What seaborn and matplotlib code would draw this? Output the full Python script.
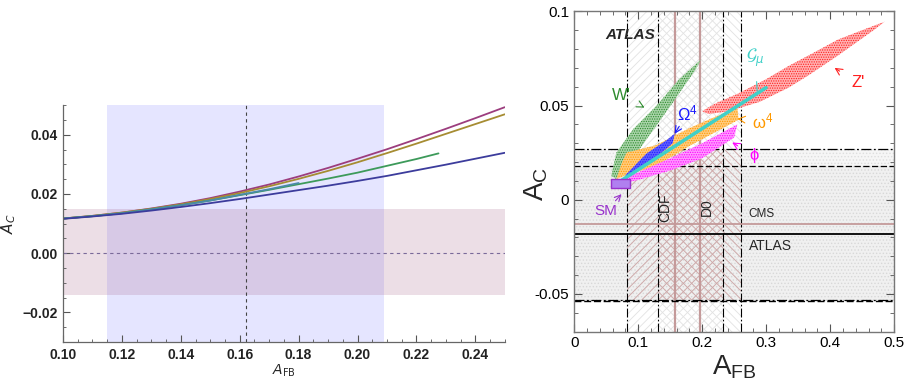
import numpy as np
import pandas as pd
import seaborn as sns
import matplotlib
matplotlib.use('Agg')
import matplotlib.pyplot as plt
from matplotlib.ticker import MultipleLocator, FuncFormatter

# ---- left panel data ----
afb_grid = [0.10, 0.11, 0.12, 0.13, 0.14, 0.15, 0.16, 0.17, 0.18, 0.19, 0.20, 0.21, 0.22, 0.23, 0.24, 0.25]
ac_purple = [0.0117, 0.0126, 0.0137, 0.0151, 0.0167, 0.0186, 0.0208, 0.0232, 0.0259, 0.0288, 0.0319, 0.0351, 0.0385, 0.0420, 0.0456, 0.0493]
ac_gold = [0.0117, 0.0126, 0.0137, 0.0150, 0.0165, 0.0183, 0.0203, 0.0226, 0.0251, 0.0278, 0.0307, 0.0338, 0.0370, 0.0403, 0.0436, 0.0469]
ac_blue = [0.0116, 0.0124, 0.0133, 0.0144, 0.0156, 0.0169, 0.0183, 0.0198, 0.0213, 0.0228, 0.0244, 0.0261, 0.0280, 0.0299, 0.0319, 0.0339]
afb_green = [0.10, 0.11, 0.12, 0.13, 0.14, 0.15, 0.16, 0.17, 0.18, 0.19, 0.20, 0.21, 0.22, 0.2275]
ac_green = [0.0117, 0.0125, 0.0135, 0.0148, 0.0162, 0.0178, 0.0196, 0.0214, 0.0233, 0.0252, 0.0272, 0.0295, 0.0318, 0.0337]
afb_teal = [0.10, 0.11, 0.12, 0.13, 0.14, 0.15, 0.16, 0.17, 0.18]
ac_teal = [0.0117, 0.0125, 0.0135, 0.0148, 0.0162, 0.0178, 0.0197, 0.0216, 0.0237]

afb_band = [0.115, 0.209]
afb_center = 0.162
ac_band = [-0.014, 0.015]

# ---- right panel data ----
cdf_band = [0.083, 0.233]
cdf_center = 0.158
d0_band = [0.131, 0.261]
d0_center = 0.196
atlas_center, atlas_err = -0.018, 0.036
cms_center, cms_err = -0.013, 0.040

w_x = [0.058, 0.066, 0.092, 0.128, 0.164, 0.198, 0.190, 0.154, 0.102, 0.0765, 0.066]
w_y = [0.0127, 0.025, 0.0374, 0.0497, 0.0639, 0.0744, 0.0692, 0.0515, 0.0268, 0.0162, 0.011]
zp_x = [0.20, 0.22, 0.257, 0.30, 0.335, 0.374, 0.412, 0.45, 0.485, 0.47, 0.412, 0.366, 0.335, 0.29, 0.242, 0.21]
zp_y = [0.047, 0.051, 0.0565, 0.064, 0.071, 0.078, 0.085, 0.090, 0.0945, 0.0905, 0.0765, 0.066, 0.0595, 0.052, 0.047, 0.0455]
om_x = [0.066, 0.075, 0.082, 0.128, 0.18, 0.21, 0.255, 0.257, 0.18, 0.128, 0.077]
om_y = [0.011, 0.020, 0.025, 0.029, 0.038, 0.0425, 0.049, 0.0425, 0.0285, 0.018, 0.0125]
phi_x = [0.058, 0.10, 0.15, 0.20, 0.255, 0.25, 0.20, 0.15, 0.10, 0.06]
phi_y = [0.009, 0.0145, 0.022, 0.030, 0.040, 0.033, 0.022, 0.0155, 0.0105, 0.0075]
bigom_x = [0.080, 0.113, 0.144, 0.157, 0.154, 0.118, 0.082]
bigom_y = [0.013, 0.0245, 0.0315, 0.035, 0.030, 0.0195, 0.0122]
gmu_x = [0.075, 0.18, 0.30]
gmu_y = [0.0105, 0.0334, 0.0595]
sm_x = [0.057, 0.087]
sm_y = [0.006, 0.011]

sns.set_theme(style='ticks')
plt.rcParams['font.family'] = ['Liberation Sans', 'DejaVu Sans']
plt.rcParams['hatch.linewidth'] = 0.6

fig = plt.figure(figsize=(9.07, 3.79), dpi=100)
ax1 = fig.add_axes([0.0695, 0.0976, 0.487, 0.625])
ax2 = fig.add_axes([0.633, 0.125, 0.3528, 0.845])

# ================= left panel =================
ax1.axvspan(afb_band[0], afb_band[1], color='#8080ff', alpha=0.2, lw=0, zorder=0)
ax1.axhspan(ac_band[0], ac_band[1], color='#a05a82', alpha=0.2, lw=0, zorder=0)
ax1.axvline(afb_center, color='#444444', lw=0.8, ls=(0, (3, 3)), zorder=1)
ax1.axhline(0.0, color='#7a6a9a', lw=0.8, ls=(0, (3, 3)), zorder=1)

curves = pd.concat([
    pd.DataFrame({'afb': afb_grid, 'ac': ac_purple, 'model': 'purple'}),
    pd.DataFrame({'afb': afb_grid, 'ac': ac_gold, 'model': 'gold'}),
    pd.DataFrame({'afb': afb_green, 'ac': ac_green, 'model': 'green'}),
    pd.DataFrame({'afb': afb_teal, 'ac': ac_teal, 'model': 'teal'}),
    pd.DataFrame({'afb': afb_grid, 'ac': ac_blue, 'model': 'blue'}),
])
pal = {'purple': '#9c3d7e', 'gold': '#a68c32', 'green': '#3d9a5a',
       'teal': '#4a8aa8', 'blue': '#3c3c9c'}
sns.lineplot(data=curves, x='afb', y='ac', hue='model', palette=pal,
             linewidth=1.3, legend=False, ax=ax1, zorder=2)

ax1.set_xlim(0.10, 0.25)
ax1.set_ylim(-0.03, 0.05)
ax1.xaxis.set_major_locator(MultipleLocator(0.02))
ax1.xaxis.set_minor_locator(MultipleLocator(0.005))
ax1.yaxis.set_major_locator(MultipleLocator(0.02))
ax1.yaxis.set_minor_locator(MultipleLocator(0.005))
ax1.xaxis.set_major_formatter(FuncFormatter(lambda v, p: f'{v:.2f}'))
ax1.yaxis.set_major_formatter(FuncFormatter(lambda v, p: f'{v:.2f}'.replace('-', '\u2212')))
ax1.tick_params(which='both', direction='in', colors='#555555', labelcolor='#222222',
                labelsize=10, pad=4)
ax1.tick_params(which='major', length=5, width=0.8)
ax1.tick_params(which='minor', length=2.5, width=0.6)
for lab in ax1.get_xticklabels() + ax1.get_yticklabels():
    lab.set_fontweight('bold')
for s in ['top', 'right']:
    ax1.spines[s].set_visible(False)
for s in ['left', 'bottom']:
    ax1.spines[s].set_color('#666666')
    ax1.spines[s].set_linewidth(0.9)
ax1.set_xlabel(r'$A_{\mathrm{FB}}$', fontsize=10, labelpad=1)
ax1.set_ylabel(r'$A_C$', fontsize=11, labelpad=3)

# ================= right panel =================
atlas_lo, atlas_hi = atlas_center - atlas_err, atlas_center + atlas_err
cms_lo, cms_hi = cms_center - cms_err, cms_center + cms_err

# stippled horizontal bands
ax2.axhspan(cms_lo, cms_hi, facecolor='#f6f6f6', edgecolor='#dedede', hatch='.....', lw=0, zorder=0.2)
ax2.axhspan(atlas_lo, atlas_hi, facecolor='#f0f0f0', edgecolor='#d8d8d8', hatch='.....', lw=0, zorder=0.3)

# hatched vertical bands (grey outside, brownish inside horizontal band)
ax2.axvspan(cdf_band[0], cdf_band[1], facecolor='none', edgecolor='#e2e2e2', hatch='////', lw=0, zorder=0.4)
ax2.axvspan(d0_band[0], d0_band[1], facecolor='none', edgecolor='#e2e2e2', hatch='\\\\\\\\', lw=0, zorder=0.4)
ax2.fill_between(cdf_band, cms_lo, cms_hi, facecolor='none', edgecolor='#cfa6a6', hatch='////', lw=0, zorder=0.5)
ax2.fill_between(d0_band, cms_lo, cms_hi, facecolor='none', edgecolor='#cfa6a6', hatch='\\\\\\\\', lw=0, zorder=0.5)

# measurement lines
dashdot = (0, (8, 2, 1.5, 2))
for v in cdf_band + d0_band:
    ax2.axvline(v, color='black', lw=0.8, ls=dashdot, zorder=1)
for v in [cdf_center, d0_center]:
    ax2.axvline(v, color='#c49a9a', lw=1.6, zorder=1)
ax2.axhline(cms_hi, color='black', lw=0.9, ls=dashdot, zorder=1)
ax2.axhline(atlas_hi, color='black', lw=0.9, ls=(0, (5, 2)), zorder=1)
ax2.axhline(cms_lo, color='black', lw=0.9, ls=dashdot, zorder=1)
ax2.axhline(atlas_lo, color='black', lw=1.0, ls=(0, (5, 2)), zorder=1)
ax2.axhline(cms_center, color='#c49a9a', lw=1.3, zorder=1)
ax2.axhline(atlas_center, color='black', lw=1.3, zorder=1)

# model regions drawn as stippled areas
def cloud(xs, ys, col, face):
    ax2.fill(xs, ys, facecolor=face, edgecolor=col, hatch='.......', lw=0, zorder=3)

cloud(w_x, w_y, '#2e8b2e', '#a9d4a9')
cloud(om_x, om_y, '#ff9900', '#ffcc80')
cloud(zp_x, zp_y, '#ff2020', '#ffb3b3')
cloud(phi_x, phi_y, '#ff00ff', '#ff99ff')
cloud(bigom_x, bigom_y, '#1a1aff', '#6060ff')
sns.lineplot(x=gmu_x, y=gmu_y, color='#40d0c8', linewidth=2.5, ax=ax2, zorder=4)
ax2.fill_between(sm_x, sm_y[0], sm_y[1], facecolor='#b080f0', edgecolor='#9933cc', lw=1, zorder=4)

# labels
ax2.text(0.048, 0.0877, 'ATLAS', fontsize=11, fontweight='bold', fontstyle='italic', va='center', ha='left', zorder=5)
ax2.text(0.143, -0.004, 'CDF', rotation=90, fontsize=10, ha='center', va='center', zorder=5)
ax2.text(0.208, -0.004, 'D0', rotation=90, fontsize=10, ha='center', va='center', zorder=5)
ax2.text(0.273, -0.0076, 'CMS', fontsize=8.5, ha='left', va='center', zorder=5)
ax2.text(0.273, -0.0243, 'ATLAS', fontsize=10, ha='left', va='center', zorder=5)

def tag(txt, xy_text, xy_tip, col, size=12, style='->'):
    ax2.annotate(txt, xy=xy_tip, xytext=xy_text, color=col, fontsize=size,
                 ha='center', va='center', zorder=6,
                 arrowprops=dict(arrowstyle=style, color=col, lw=0.8, shrinkA=7, shrinkB=0))

tag("W'", (0.074, 0.0555), (0.110, 0.0489), '#2e8b2e')
tag(r'$\mathregular{\Omega^4}$', (0.177, 0.046), (0.157, 0.035), '#1a1aff')
tag(r'$\mathcal{G}_\mu$', (0.283, 0.0755), (0.286, 0.0577), '#40d0c8', style='-')
tag(r'$\mathregular{\omega^4}$', (0.295, 0.0415), (0.255, 0.043), '#ff9900')
tag(r'$\mathregular{\phi}$', (0.282, 0.0233), (0.247, 0.0304), '#ff00ff')
tag("Z'", (0.443, 0.062), (0.407, 0.070), '#ff2020')
tag('SM', (0.05, -0.006), (0.074, 0.003), '#9933cc', size=11)

ax2.set_xlim(0, 0.5)
ax2.set_ylim(-0.07, 0.1)
ax2.xaxis.set_major_locator(MultipleLocator(0.1))
ax2.xaxis.set_minor_locator(MultipleLocator(0.02))
ax2.yaxis.set_major_locator(MultipleLocator(0.05))
ax2.yaxis.set_minor_locator(MultipleLocator(0.01))
ax2.xaxis.set_major_formatter(FuncFormatter(lambda v, p: f'{v:g}'))
ax2.yaxis.set_major_formatter(FuncFormatter(lambda v, p: f'{round(v, 3):g}'))
ax2.tick_params(which='both', direction='in', top=True, right=True, colors='#555555',
                labelcolor='black', labelsize=11)
ax2.tick_params(which='major', length=6, width=0.8)
ax2.tick_params(which='minor', length=3, width=0.6)
for s in ax2.spines.values():
    s.set_color('#777777')
    s.set_linewidth(1.0)
ax2.set_xlabel(r'$\mathregular{A_{FB}}$', fontsize=20, labelpad=2)
ax2.set_ylabel(r'$\mathregular{A_C}$', fontsize=20)
ax2.yaxis.set_label_coords(-0.075, 0.46)

fig.savefig('out.png', dpi=100)
